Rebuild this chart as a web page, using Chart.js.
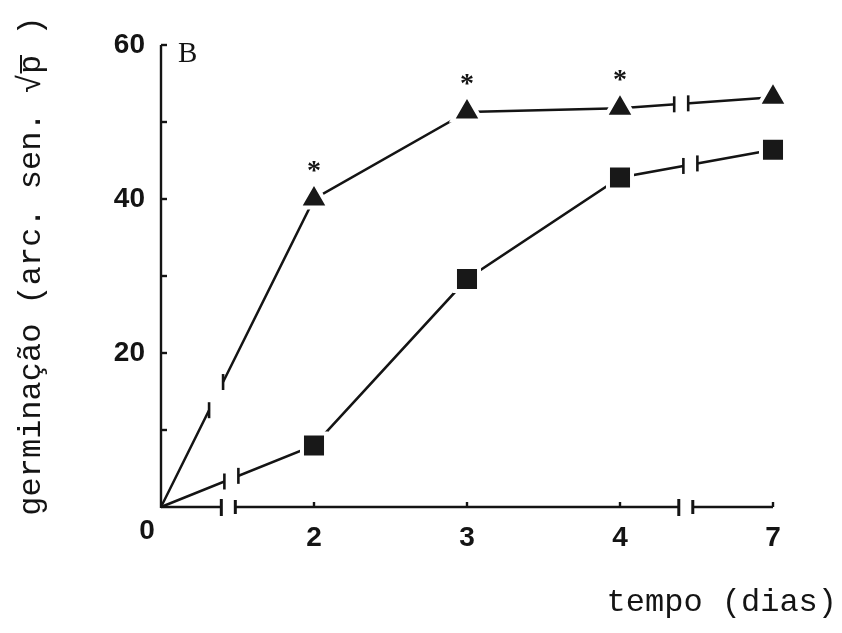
<!DOCTYPE html>
<html>
<head>
<meta charset="utf-8">
<script src="https://cdn.jsdelivr.net/npm/chart.js@4/dist/chart.umd.min.js"></script>
<style>
  html, body { margin: 0; padding: 0; background: #fff; }
  #wrap { width: 842px; height: 633px; }
</style>
</head>
<body>
<div id="wrap"><canvas id="c" width="842" height="633"></canvas></div>
<script>
// Germination over time, arcsine-transformed percentages
const days = ['0', '2', '3', '4', '7'];
const serieTriangulo = [0, 40.0, 51.3, 51.8, 53.2];
const serieQuadrado  = [0, 8.0, 29.6, 42.8, 46.4];
const significativo  = [false, true, true, true, false];   // '*' over the triangle series
const yTickValues    = [0, 10, 20, 30, 40, 50, 60];
const yTickLabels    = ['', '', '20', '', '40', '', '60'];
const panelLabel     = 'B';
const yTitle         = 'germinação (arc. sen. √p\u0305 )';
const xTitle         = 'tempo (dias)';

// where the axis and each line are interrupted (in category units)
const quebrasEixo      = [0.44, 3.43];
const quebrasTriangulo = [0.36, 3.40];
const quebrasQuadrado  = [0.46, 3.46];

const INK = '#141414';
const tickFont = { family: "'Liberation Sans', Arial, sans-serif", size: 28, weight: 'bold' };

function lineBreaks(chart, dsIndex, positions, ctx) {
  const { x, y } = chart.scales;
  const vals = chart.data.datasets[dsIndex].data;
  positions.forEach(p => {
    const i = Math.floor(p);
    const xa = x.getPixelForValue(i), ya = y.getPixelForValue(vals[i]);
    const xb = x.getPixelForValue(i + 1), yb = y.getPixelForValue(vals[i + 1]);
    const yAt = px => ya + (yb - ya) * (px - xa) / (xb - xa);
    const c = x.getPixelForValue(p);
    const half = 7;
    const l = c - half, r = c + half;
    // open the gap
    ctx.strokeStyle = '#fff';
    ctx.lineWidth = 7;
    ctx.beginPath(); ctx.moveTo(l, yAt(l)); ctx.lineTo(r, yAt(r)); ctx.stroke();
    // end bars
    ctx.strokeStyle = INK;
    ctx.lineWidth = 2.6;
    [l, r].forEach(px => {
      ctx.beginPath(); ctx.moveTo(px, yAt(px) - 8); ctx.lineTo(px, yAt(px) + 8); ctx.stroke();
    });
  });
}

const decor = {
  id: 'decor',
  beforeDatasetsDraw(chart) {
    const { ctx, scales: { x, y } } = chart;
    const x0 = x.getPixelForValue(0), y0 = y.getPixelForValue(0);
    const xEnd = x.getPixelForValue(days.length - 1);
    const yTop = y.getPixelForValue(60);
    ctx.save();
    ctx.strokeStyle = INK;
    ctx.lineWidth = 2.4;
    ctx.lineCap = 'butt';
    // vertical axis
    ctx.beginPath(); ctx.moveTo(x0, y0 + 1); ctx.lineTo(x0, yTop); ctx.stroke();
    // inward ticks on the vertical axis
    yTickValues.forEach(v => {
      if (v === 0) return;
      const py = y.getPixelForValue(v);
      ctx.beginPath(); ctx.moveTo(x0, py); ctx.lineTo(x0 + 6, py); ctx.stroke();
    });
    // horizontal axis, interrupted at the breaks
    const half = 7;
    const pts = [x0];
    quebrasEixo.forEach(p => { const c = x.getPixelForValue(p); pts.push(c - half, c + half); });
    pts.push(xEnd);
    for (let k = 0; k < pts.length; k += 2) {
      ctx.beginPath(); ctx.moveTo(pts[k], y0); ctx.lineTo(pts[k + 1], y0); ctx.stroke();
    }
    ctx.lineWidth = 3;
    quebrasEixo.forEach(p => {
      const c = x.getPixelForValue(p);
      ctx.beginPath(); ctx.moveTo(c - half, y0 - 8); ctx.lineTo(c - half, y0 + 9); ctx.stroke();
      ctx.beginPath(); ctx.moveTo(c + half, y0 - 7); ctx.lineTo(c + half, y0 + 7); ctx.stroke();
    });
    // inward ticks on the horizontal axis
    ctx.lineWidth = 2.4;
    days.forEach((d, i) => {
      if (i === 0) return;
      const px = x.getPixelForValue(i);
      ctx.beginPath(); ctx.moveTo(px, y0); ctx.lineTo(px, y0 - 5); ctx.stroke();
    });
    ctx.restore();
  },
  afterDatasetsDraw(chart) {
    const { ctx, scales: { x, y } } = chart;
    ctx.save();
    ctx.lineCap = 'butt';
    lineBreaks(chart, 0, quebrasTriangulo, ctx);
    lineBreaks(chart, 1, quebrasQuadrado, ctx);

    // significance marks
    const meta = chart.getDatasetMeta(0);
    ctx.fillStyle = INK;
    ctx.font = "bold 28px 'Liberation Serif', 'Times New Roman', serif";
    ctx.textAlign = 'center';
    ctx.textBaseline = 'alphabetic';
    significativo.forEach((s, i) => {
      if (!s) return;
      const pt = meta.data[i];
      ctx.fillText('*', pt.x, pt.y - 34 + 14);
    });

    const x0 = x.getPixelForValue(0), y0 = y.getPixelForValue(0);
    // shared origin label
    ctx.font = `bold ${tickFont.size}px ${tickFont.family}`;
    ctx.textBaseline = 'middle';
    ctx.fillText(days[0], x0 - 14, y0 + 24);

    // panel letter
    ctx.font = "29px 'Liberation Serif', 'Times New Roman', serif";
    ctx.textAlign = 'left';
    ctx.textBaseline = 'alphabetic';
    ctx.fillText(panelLabel, x0 + 17, y.getPixelForValue(60) + 17);

    // axis titles
    ctx.font = "32px 'Liberation Mono', 'Courier New', monospace";
    ctx.textBaseline = 'middle';
    ctx.textAlign = 'right';
    ctx.fillText(xTitle, 837, 603);
    ctx.save();
    ctx.translate(32, 266);
    ctx.rotate(-Math.PI / 2);
    ctx.textAlign = 'center';
    ctx.fillText(yTitle, 0, 0);
    ctx.restore();
    ctx.restore();
  }
};

new Chart(document.getElementById('c'), {
  type: 'line',
  data: {
    labels: days,
    datasets: [
      {
        data: serieTriangulo,
        borderColor: INK,
        borderWidth: 2.5,
        tension: 0,
        pointStyle: 'triangle',
        pointRadius: c => (c.dataIndex === 0 ? 0 : 17),
        pointHoverRadius: c => (c.dataIndex === 0 ? 0 : 17),
        pointBackgroundColor: '#181818',
        pointBorderColor: '#fff',
        pointBorderWidth: 4,
        clip: false
      },
      {
        data: serieQuadrado,
        borderColor: INK,
        borderWidth: 2.5,
        tension: 0,
        pointStyle: 'rect',
        pointRadius: c => (c.dataIndex === 0 ? 0 : 17),
        pointHoverRadius: c => (c.dataIndex === 0 ? 0 : 17),
        pointBackgroundColor: '#181818',
        pointBorderColor: '#fff',
        pointBorderWidth: 4,
        clip: false
      }
    ]
  },
  options: {
    responsive: false,
    animation: false,
    devicePixelRatio: 1,
    layout: { padding: { left: 0, top: 45, right: 69, bottom: 0 } },
    plugins: { legend: { display: false }, tooltip: { enabled: false } },
    events: [],
    scales: {
      x: {
        type: 'category',
        offset: false,
        grid: { display: false },
        border: { display: false },
        ticks: {
          color: INK,
          font: tickFont,
          padding: 6,
          maxRotation: 0,
          autoSkip: false,
          callback: (v, i) => (i === 0 ? '' : days[i])
        },
        afterFit: s => { s.height = 126; }
      },
      y: {
        min: 0,
        max: 60,
        grid: { display: false },
        border: { display: false },
        afterBuildTicks: s => { s.ticks = yTickValues.map(v => ({ value: v })); },
        ticks: {
          color: INK,
          font: tickFont,
          padding: 8,
          callback: v => yTickLabels[yTickValues.indexOf(v)]
        },
        afterFit: s => { s.width = 161; }
      }
    }
  },
  plugins: [decor]
});
</script>
</body>
</html>
